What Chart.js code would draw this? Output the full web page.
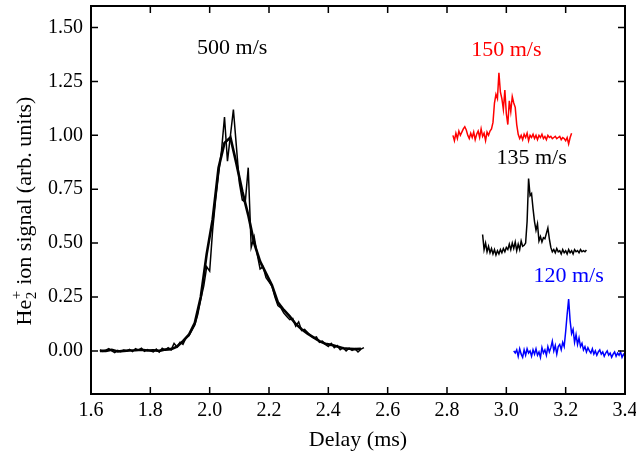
<!DOCTYPE html>
<html>
<head>
<meta charset="utf-8">
<script src="https://cdn.jsdelivr.net/npm/chart.js@4.4.0/dist/chart.umd.min.js"></script>
<style>
html, body { margin: 0; padding: 0; background: #fff; }
canvas { display: block; }
</style>
</head>
<body>
<canvas id="chart" width="636" height="457" style="width:636px;height:457px"></canvas>
<script>
// tick values
const xTickValues = [1.6, 1.8, 2.0, 2.2, 2.4, 2.6, 2.8, 3.0, 3.2, 3.4];
const yTickValues = [0, 0.25, 0.5, 0.75, 1.0, 1.25, 1.5];

// 500 m/s, raw trace
const delay500 = [1.63, 1.64, 1.65, 1.66, 1.67, 1.68, 1.69, 1.70, 1.71, 1.72,
    1.73, 1.74, 1.75, 1.76, 1.77, 1.78, 1.79, 1.80, 1.81, 1.82,
    1.83, 1.84, 1.85, 1.86, 1.87, 1.88, 1.89, 1.90, 1.91, 1.92,
    1.93, 1.94, 1.95, 1.96, 1.97, 1.98, 1.99, 2.00, 2.01, 2.02,
    2.03, 2.04, 2.05, 2.06, 2.07, 2.08, 2.09, 2.10, 2.11, 2.12,
    2.13, 2.14, 2.15, 2.16, 2.17, 2.18, 2.19, 2.20, 2.21, 2.22,
    2.23, 2.24, 2.25, 2.26, 2.27, 2.28, 2.29, 2.30, 2.31, 2.32,
    2.33, 2.34, 2.35, 2.36, 2.37, 2.38, 2.39, 2.40, 2.41, 2.42,
    2.43, 2.44, 2.45, 2.46, 2.47, 2.48, 2.49, 2.50, 2.51, 2.52];
const signal500 = [0.005, -0.002, 0.003, 0.010, 0.000, -0.008, 0.002, -0.004, 0.004, 0.000,
    0.007, -0.003, 0.010, 0.003, 0.012, -0.002, 0.006, 0.000, -0.005, 0.008,
    -0.006, 0.012, 0.004, 0.015, 0.005, 0.035, 0.018, 0.040, 0.030, 0.060,
    0.070, 0.095, 0.120, 0.170, 0.240, 0.300, 0.390, 0.370, 0.560, 0.700,
    0.820, 0.930, 1.085, 0.880, 1.000, 1.120, 0.950, 0.780, 0.700, 0.690,
    0.850, 0.480, 0.530, 0.450, 0.380, 0.390, 0.340, 0.320, 0.300, 0.250,
    0.210, 0.200, 0.175, 0.160, 0.145, 0.150, 0.115, 0.135, 0.095, 0.100,
    0.085, 0.070, 0.060, 0.065, 0.040, 0.045, 0.030, 0.020, 0.035, 0.015,
    0.025, 0.005, 0.015, 0.000, 0.012, 0.002, 0.010, -0.005, 0.008, 0.015];

// 500 m/s, averaged trace
const delay500avg = [1.63, 1.65, 1.67, 1.69, 1.71, 1.73, 1.75, 1.77, 1.79, 1.81,
    1.83, 1.85, 1.87, 1.89, 1.91, 1.93, 1.95, 1.97, 1.99, 2.01,
    2.03, 2.05, 2.07, 2.09, 2.11, 2.13, 2.15, 2.17, 2.19, 2.21,
    2.23, 2.25, 2.27, 2.29, 2.31, 2.33, 2.35, 2.37, 2.39, 2.41,
    2.43, 2.45, 2.47, 2.49, 2.51];
const signal500avg = [0.000, 0.000, 0.005, -0.003, 0.000, 0.002, 0.003, 0.005, 0.002, 0.003,
    0.000, 0.006, 0.008, 0.020, 0.045, 0.075, 0.130, 0.250, 0.450, 0.610,
    0.850, 0.965, 0.990, 0.870, 0.740, 0.630, 0.500, 0.415, 0.360, 0.305,
    0.225, 0.190, 0.160, 0.125, 0.100, 0.080, 0.063, 0.045, 0.033, 0.028,
    0.020, 0.012, 0.010, 0.008, 0.010];

// 150 m/s
const delay150 = [2.820, 2.825, 2.830, 2.835, 2.840, 2.845, 2.850, 2.855, 2.860, 2.865,
    2.870, 2.875, 2.880, 2.885, 2.890, 2.895, 2.900, 2.905, 2.910, 2.915,
    2.920, 2.925, 2.930, 2.935, 2.940, 2.945, 2.950, 2.955, 2.960, 2.965,
    2.970, 2.975, 2.980, 2.985, 2.990, 2.995, 3.000, 3.005, 3.010, 3.015,
    3.020, 3.025, 3.030, 3.035, 3.040, 3.045, 3.050, 3.055, 3.060, 3.065,
    3.070, 3.075, 3.080, 3.085, 3.090, 3.095, 3.100, 3.105, 3.110, 3.115,
    3.120, 3.125, 3.130, 3.135, 3.140, 3.145, 3.150, 3.155, 3.160, 3.165,
    3.170, 3.175, 3.180, 3.185, 3.190, 3.195, 3.200, 3.205, 3.210, 3.215, 3.220];
const signal150 = [1.000, 0.975, 1.010, 0.985, 1.020, 1.000, 1.015, 1.030, 1.040, 1.025,
    1.000, 0.985, 1.010, 0.990, 1.015, 0.980, 1.005, 1.020, 0.990, 1.030,
    0.995, 1.010, 0.975, 1.015, 1.000, 1.020, 1.030, 1.060, 1.150, 1.190,
    1.170, 1.290, 1.200, 1.170, 1.120, 1.210, 1.100, 1.050, 1.160, 1.110,
    1.180, 1.150, 1.130, 1.050, 1.005, 0.985, 1.000, 0.980, 1.005, 0.990,
    1.010, 0.975, 1.000, 0.990, 1.005, 0.985, 1.000, 0.980, 1.000, 0.990,
    1.005, 0.985, 0.995, 0.980, 1.000, 0.990, 0.995, 0.985, 0.990, 0.995,
    0.985, 0.990, 0.995, 0.980, 0.990, 0.985, 0.975, 0.990, 0.960, 0.990, 1.010];

// 135 m/s
const delay135 = [2.920, 2.925, 2.930, 2.935, 2.940, 2.945, 2.950, 2.955, 2.960, 2.965,
    2.970, 2.975, 2.980, 2.985, 2.990, 2.995, 3.000, 3.005, 3.010, 3.015,
    3.020, 3.025, 3.030, 3.035, 3.040, 3.045, 3.050, 3.055, 3.060, 3.065,
    3.070, 3.075, 3.080, 3.085, 3.090, 3.095, 3.100, 3.105, 3.110, 3.115,
    3.120, 3.125, 3.130, 3.135, 3.140, 3.145, 3.150, 3.155, 3.160, 3.165,
    3.170, 3.175, 3.180, 3.185, 3.190, 3.195, 3.200, 3.205, 3.210, 3.215,
    3.220, 3.225, 3.230, 3.235, 3.240, 3.245, 3.250, 3.255, 3.260, 3.265, 3.270];
const signal135 = [0.540, 0.470, 0.500, 0.460, 0.485, 0.455, 0.475, 0.450, 0.470, 0.445,
    0.465, 0.450, 0.470, 0.455, 0.475, 0.460, 0.480, 0.470, 0.495, 0.470,
    0.500, 0.475, 0.505, 0.465, 0.495, 0.470, 0.510, 0.485, 0.490, 0.500,
    0.600, 0.800, 0.720, 0.730, 0.660, 0.600, 0.560, 0.590, 0.510, 0.530,
    0.505, 0.525, 0.520, 0.545, 0.570, 0.520, 0.480, 0.460, 0.470, 0.455,
    0.475, 0.460, 0.465, 0.450, 0.470, 0.455, 0.465, 0.450, 0.470, 0.455,
    0.465, 0.450, 0.470, 0.460, 0.465, 0.455, 0.470, 0.460, 0.465, 0.460, 0.468];

// 120 m/s
const delay120 = [3.025, 3.030, 3.035, 3.040, 3.045, 3.050, 3.055, 3.060, 3.065, 3.070,
    3.075, 3.080, 3.085, 3.090, 3.095, 3.100, 3.105, 3.110, 3.115, 3.120,
    3.125, 3.130, 3.135, 3.140, 3.145, 3.150, 3.155, 3.160, 3.165, 3.170,
    3.175, 3.180, 3.185, 3.190, 3.195, 3.200, 3.205, 3.210, 3.215, 3.220,
    3.225, 3.230, 3.235, 3.240, 3.245, 3.250, 3.255, 3.260, 3.265, 3.270,
    3.275, 3.280, 3.285, 3.290, 3.295, 3.300, 3.305, 3.310, 3.315, 3.320,
    3.325, 3.330, 3.335, 3.340, 3.345, 3.350, 3.355, 3.360, 3.365, 3.370,
    3.375, 3.380, 3.385, 3.390, 3.395, 3.400];
const signal120 = [0.000, -0.010, 0.005, -0.025, 0.010, -0.015, -0.030, 0.005, -0.020, 0.010,
    -0.010, 0.000, -0.025, 0.005, -0.015, 0.010, -0.020, -0.005, -0.030, 0.015,
    -0.010, 0.005, -0.020, 0.020, -0.005, 0.015, 0.045, 0.000, 0.025, -0.015,
    0.020, 0.030, 0.005, 0.040, 0.020, 0.090, 0.170, 0.240, 0.140, 0.080,
    0.100, 0.040, 0.075, 0.030, 0.060, 0.020, 0.035, 0.005, 0.020, -0.005,
    0.015, 0.000, -0.010, 0.010, -0.015, 0.000, -0.020, -0.005, 0.005, -0.015,
    -0.005, -0.025, -0.010, 0.000, -0.020, -0.010, -0.030, -0.015, -0.005, -0.025,
    -0.010, -0.020, -0.005, -0.030, -0.015, -0.020];

// velocity labels (text, delay, signal, colour)
const velocityLabels = ['500 m/s', '150 m/s', '135 m/s', '120 m/s'];
const labelDelay = [2.076, 3.0, 3.085, 3.21];
const labelSignal = [1.405, 1.395, 0.895, 0.345];
const labelColors = ['#000000', '#ff0000', '#000000', '#0000ff'];

const FONT = '"Liberation Serif", "Times New Roman", serif';

function toPoints(xs, ys) {
    return xs.map((x, i) => ({ x: x, y: ys[i] }));
}

// box + inward ticks on all four sides
const frame = {
    id: 'frame',
    afterDraw(chart) {
        const ctx = chart.ctx;
        const a = chart.chartArea;
        const xs = chart.scales.x, ys = chart.scales.y;
        ctx.save();
        ctx.strokeStyle = '#000';
        ctx.lineWidth = 1.5;
        ctx.beginPath();
        xs.ticks.forEach(t => {
            const px = xs.getPixelForValue(t.value);
            ctx.moveTo(px, a.bottom); ctx.lineTo(px, a.bottom - 7);
            ctx.moveTo(px, a.top); ctx.lineTo(px, a.top + 7);
        });
        ys.ticks.forEach(t => {
            const py = ys.getPixelForValue(t.value);
            ctx.moveTo(a.left, py); ctx.lineTo(a.left + 7, py);
            ctx.moveTo(a.right, py); ctx.lineTo(a.right - 7, py);
        });
        ctx.stroke();
        ctx.lineWidth = 2;
        ctx.strokeRect(a.left, a.top, a.right - a.left, a.bottom - a.top);
        ctx.restore();
    }
};

// velocity labels and the y axis title with sub/superscript
const texts = {
    id: 'texts',
    afterDatasetsDraw(chart) {
        const ctx = chart.ctx;
        const xs = chart.scales.x, ys = chart.scales.y;
        ctx.save();
        ctx.font = '22px ' + FONT;
        ctx.textAlign = 'center';
        ctx.textBaseline = 'middle';
        velocityLabels.forEach((t, i) => {
            ctx.fillStyle = labelColors[i];
            ctx.fillText(t, xs.getPixelForValue(labelDelay[i]), ys.getPixelForValue(labelSignal[i]));
        });

        // He2+ ion signal (arb. units)
        const big = '22px ' + FONT, small = '15px ' + FONT;
        ctx.font = big;
        const wHe = ctx.measureText('He').width;
        const rest = ' ion signal (arb. units)';
        const wRest = ctx.measureText(rest).width;
        ctx.font = small;
        const wSub = Math.max(ctx.measureText('2').width, ctx.measureText('+').width) + 1;
        const total = wHe + wSub + wRest;
        ctx.translate(31, 211);
        ctx.rotate(-Math.PI / 2);
        ctx.fillStyle = '#000';
        ctx.textAlign = 'left';
        ctx.textBaseline = 'alphabetic';
        let x0 = -total / 2;
        ctx.font = big;
        ctx.fillText('He', x0, 0);
        ctx.font = small;
        ctx.fillText('2', x0 + wHe + 0.5, 5);
        ctx.fillText('+', x0 + wHe + 0.5, -10);
        ctx.font = big;
        ctx.fillText(rest, x0 + wHe + wSub, 0);
        ctx.restore();
    }
};

const lineStyle = { pointRadius: 0, tension: 0, fill: false };

new Chart(document.getElementById('chart').getContext('2d'), {
    type: 'line',
    data: {
        datasets: [
            { ...lineStyle, label: '500 m/s', data: toPoints(delay500, signal500), borderColor: '#000', borderWidth: 1.5 },
            { ...lineStyle, label: '500 m/s avg', data: toPoints(delay500avg, signal500avg), borderColor: '#000', borderWidth: 2.6 },
            { ...lineStyle, label: '150 m/s', data: toPoints(delay150, signal150), borderColor: '#ff0000', borderWidth: 1.5 },
            { ...lineStyle, label: '135 m/s', data: toPoints(delay135, signal135), borderColor: '#000', borderWidth: 1.5 },
            { ...lineStyle, label: '120 m/s', data: toPoints(delay120, signal120), borderColor: '#0000ff', borderWidth: 1.5 }
        ]
    },
    options: {
        responsive: false,
        animation: false,
        layout: { padding: { top: 6, right: 11, left: 0, bottom: 0 } },
        plugins: { legend: { display: false }, tooltip: { enabled: false } },
        scales: {
            x: {
                type: 'linear',
                min: 1.6,
                max: 3.4,
                afterBuildTicks: s => { s.ticks = xTickValues.map(v => ({ value: v })); },
                afterFit: s => { s.height = 63; s.paddingLeft = 0; s.paddingRight = 0; },
                ticks: {
                    callback: v => v.toFixed(1),
                    color: '#000',
                    font: { family: FONT, size: 20 },
                    padding: 5,
                    maxRotation: 0,
                    autoSkip: false
                },
                grid: { display: false, drawTicks: false },
                border: { display: false },
                title: {
                    display: true,
                    text: 'Delay (ms)',
                    color: '#000',
                    font: { family: FONT, size: 22 },
                    padding: { top: 0, bottom: 4 }
                }
            },
            y: {
                type: 'linear',
                min: -0.2,
                max: 1.6,
                afterBuildTicks: s => { s.ticks = yTickValues.map(v => ({ value: v })); },
                afterFit: s => { s.width = 91; s.paddingTop = 0; s.paddingBottom = 0; },
                ticks: {
                    callback: v => v.toFixed(2),
                    color: '#000',
                    font: { family: FONT, size: 20 },
                    padding: 8,
                    autoSkip: false
                },
                grid: { display: false, drawTicks: false },
                border: { display: false }
            }
        }
    },
    plugins: [frame, texts]
});
</script>
</body>
</html>
